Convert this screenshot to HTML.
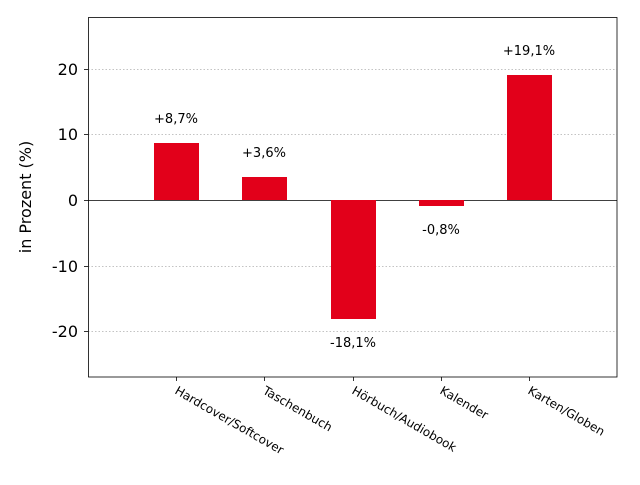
<!DOCTYPE html>
<html><head><meta charset="utf-8"><style>
html,body{margin:0;padding:0;background:#fff;}
svg text{font-family:"DejaVu Sans","Liberation Sans",sans-serif;}
</style></head><body>
<svg width="640" height="480" viewBox="0 0 640 480" xmlns="http://www.w3.org/2000/svg">
<rect width="640" height="480" fill="#fff"/>
<g stroke="#b0b0b0" stroke-width="0.8" stroke-dasharray="1.5,2">
<line x1="88" x2="617" y1="69.5" y2="69.5"/>
<line x1="88" x2="617" y1="134.5" y2="134.5"/>
<line x1="88" x2="617" y1="266.5" y2="266.5"/>
<line x1="88" x2="617" y1="331.5" y2="331.5"/>
</g>
<line x1="88" x2="617" y1="200.5" y2="200.5" stroke="#000" stroke-width="0.8"/>
<g fill="#e2001a">
<rect x="154" y="143" width="45" height="57"/>
<rect x="242" y="177" width="45" height="23"/>
<rect x="331" y="200" width="45" height="119"/>
<rect x="419" y="200" width="45" height="6"/>
<rect x="507" y="75" width="45" height="125"/>
</g>
<rect x="88.5" y="17.5" width="528.5" height="359.5" fill="none" stroke="#000" stroke-width="0.8"/>
<g stroke="#000" stroke-width="0.8">
<line x1="84" x2="88" y1="69.5" y2="69.5"/><line x1="84" x2="88" y1="134.5" y2="134.5"/>
<line x1="84" x2="88" y1="200.5" y2="200.5"/><line x1="84" x2="88" y1="266.5" y2="266.5"/>
<line x1="84" x2="88" y1="331.5" y2="331.5"/>
<line x1="176.5" x2="176.5" y1="377" y2="381"/><line x1="264.5" x2="264.5" y1="377" y2="381"/>
<line x1="353.5" x2="353.5" y1="377" y2="381"/><line x1="441.5" x2="441.5" y1="377" y2="381"/>
<line x1="529.5" x2="529.5" y1="377" y2="381"/>
</g>
<g font-size="16" text-anchor="end" fill="#000">
<text x="78" y="75">20</text><text x="78" y="140">10</text><text x="78" y="206">0</text>
<text x="78" y="272">-10</text><text x="78" y="337">-20</text>
</g>
<text transform="translate(31,197) rotate(-90)" font-size="16" text-anchor="middle">in Prozent (%)</text>
<g font-size="13" text-anchor="middle">
<text x="176" y="123">+8,7%</text><text x="264" y="157">+3,6%</text>
<text x="353" y="347">-18,1%</text><text x="441" y="234">-0,8%</text>
<text x="529" y="55">+19,1%</text>
</g>
<g font-size="12">
<text transform="translate(174,393) rotate(30)">Hardcover/Softcover</text>
<text transform="translate(262,393) rotate(30)">Taschenbuch</text>
<text transform="translate(351,393) rotate(30)">Hörbuch/Audiobook</text>
<text transform="translate(439,393) rotate(30)">Kalender</text>
<text transform="translate(527,393) rotate(30)">Karten/Globen</text>
</g>
</svg>
</body></html>
